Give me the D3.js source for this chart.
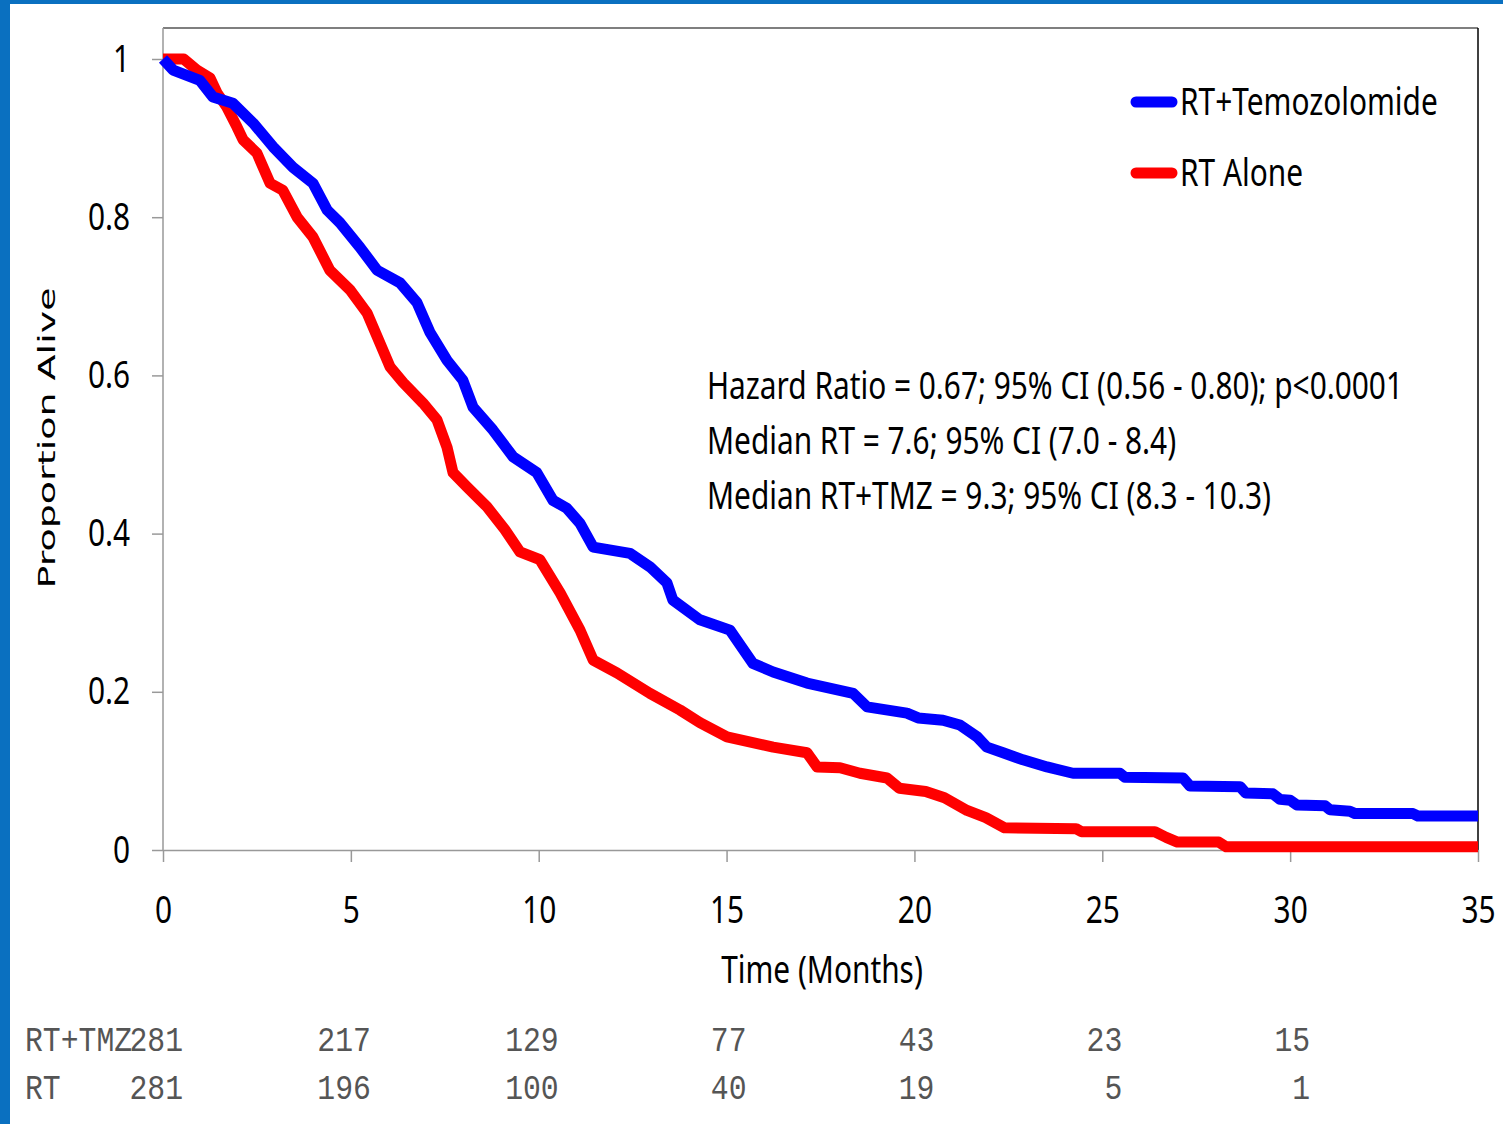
<!DOCTYPE html>
<html>
<head>
<meta charset="utf-8">
<script src="https://cdn.jsdelivr.net/npm/d3@7"></script>
<style>
  body { margin: 0; background: #fff; }
  svg { display: block; }
</style>
</head>
<body>
<script>
// Kaplan-Meier: RT + Temozolomide vs RT alone

// RT+Temozolomide curve (months, proportion alive)
var tmzTime = [0, 0.27, 0.98, 1.33, 1.86, 2.40, 2.93, 3.46, 3.99, 4.37, 4.71, 5.24, 5.70, 6.31, 6.76,
               7.11, 7.56, 7.98, 8.25, 8.78, 9.32, 9.95, 10.38, 10.75, 11.10, 11.45, 12.43, 12.96, 13.41,
               13.57, 14.29, 15.09, 15.70, 16.24, 17.14, 18.37, 18.74, 19.80, 20.10, 20.76, 21.21, 21.67,
               21.93, 22.36, 22.89, 23.53, 24.22, 25.47, 25.60, 27.15, 27.33, 28.67, 28.82, 29.54, 29.73,
               30.00, 30.18, 30.93, 31.06, 31.59, 31.73, 33.27, 33.40, 35.00];
var tmzSurv = [1.000, 0.986, 0.973, 0.952, 0.944, 0.919, 0.889, 0.863, 0.843, 0.809, 0.793, 0.762, 0.733, 0.717, 0.692,
               0.654, 0.619, 0.594, 0.560, 0.531, 0.497, 0.477, 0.442, 0.432, 0.413, 0.383, 0.375, 0.358, 0.338,
               0.316, 0.291, 0.278, 0.236, 0.225, 0.211, 0.198, 0.181, 0.173, 0.167, 0.164, 0.158, 0.143,
               0.130, 0.123, 0.114, 0.105, 0.097, 0.097, 0.092, 0.091, 0.081, 0.080, 0.072, 0.071, 0.064,
               0.063, 0.057, 0.056, 0.051, 0.049, 0.046, 0.046, 0.043, 0.043];

// RT alone curve
var rtTime = [0, 0.55, 0.90, 1.25, 1.44, 1.70, 1.97, 2.13, 2.50, 2.85, 3.19, 3.57, 3.99, 4.44, 4.98,
              5.43, 5.70, 6.04, 6.39, 6.92, 7.29, 7.56, 7.72, 8.09, 8.62, 9.10, 9.50, 10.03, 10.57,
              11.10, 11.45, 12.08, 12.96, 13.76, 14.29, 15.01, 16.24, 17.14, 17.41, 18.02, 18.55, 19.27,
              19.60, 20.30, 20.80, 21.40, 21.90, 22.40, 24.30, 24.45, 26.40, 26.70, 27.00, 28.10, 28.30, 35.00];
var rtSurv = [1.000, 1.000, 0.986, 0.976, 0.957, 0.939, 0.914, 0.898, 0.881, 0.843, 0.834, 0.800, 0.775, 0.733, 0.708,
              0.679, 0.649, 0.611, 0.591, 0.565, 0.544, 0.509, 0.477, 0.459, 0.434, 0.405, 0.377, 0.367, 0.325,
              0.278, 0.240, 0.224, 0.198, 0.177, 0.161, 0.143, 0.130, 0.123, 0.105, 0.104, 0.097, 0.091,
              0.078, 0.074, 0.066, 0.050, 0.041, 0.028, 0.027, 0.023, 0.023, 0.016, 0.010, 0.010, 0.004, 0.004];

var seriesNames = ["RT+Temozolomide", "RT Alone"];
var xTicks = [0, 5, 10, 15, 20, 25, 30, 35];
var yTicks = [0, 0.2, 0.4, 0.6, 0.8, 1];

// numbers at risk, one per x tick from 0 to 30
var riskLabels = ["RT+TMZ", "RT"];
var riskTimes = [0, 5, 10, 15, 20, 25, 30];
var riskTmz = [281, 217, 129, 77, 43, 23, 15];
var riskRt = [281, 196, 100, 40, 19, 5, 1];

var notes = [
  "Hazard Ratio = 0.67; 95% CI (0.56 - 0.80); p<0.0001",
  "Median RT = 7.6; 95% CI (7.0 - 8.4)",
  "Median RT+TMZ = 9.3; 95% CI (8.3 - 10.3)"
];

var width = 1503, height = 1124;
var plotL = 163, plotR = 1478, plotT = 28, plotB = 850;
var sans = "'Noto Sans', 'Open Sans', sans-serif";
var narrow = 0.785; // the original is squashed sideways

var svg = d3.select("body").append("svg")
  .attr("width", width)
  .attr("height", height);

// blue slide edge
svg.append("rect").attr("x", 0).attr("y", 0).attr("width", width).attr("height", 4).attr("fill", "#0a70c0");
svg.append("rect").attr("x", 0).attr("y", 0).attr("width", 10).attr("height", height).attr("fill", "#0a70c0");

var x = d3.scaleLinear().domain([0, 35]).range([plotL, plotR]);
var y = d3.scaleLinear().domain([0, 1]).range([plotB, 59]);

// narrow the glyphs horizontally
function squeeze(sel, k) {
  sel.each(function() {
    var w = this.getComputedTextLength();
    d3.select(this).attr("textLength", w * k).attr("lengthAdjust", "spacingAndGlyphs");
  });
}

// frame
svg.append("line").attr("x1", plotL).attr("x2", plotR).attr("y1", plotT).attr("y2", plotT)
  .attr("stroke", "#555").attr("stroke-width", 1.5);
svg.append("line").attr("x1", plotR).attr("x2", plotR).attr("y1", plotT).attr("y2", plotB)
  .attr("stroke", "#000").attr("stroke-width", 1.5);
svg.append("line").attr("x1", plotL).attr("x2", plotL).attr("y1", plotT).attr("y2", plotB)
  .attr("stroke", "#999").attr("stroke-width", 1.5);

// axes
var xAxis = d3.axisBottom(x).tickValues(xTicks).tickSize(12).tickSizeOuter(0).tickFormat(d3.format("d"));
var gx = svg.append("g").attr("transform", "translate(0," + plotB + ")").call(xAxis);
gx.select(".domain").attr("stroke", "#999").attr("stroke-width", 1.5);
gx.selectAll(".tick line").attr("stroke", "#999").attr("stroke-width", 1.5);
gx.selectAll(".tick text")
  .attr("y", 73).attr("dy", null)
  .attr("font-family", sans).attr("font-size", 38).attr("fill", "#000")
  .call(squeeze, narrow);

var yAxis = d3.axisLeft(y).tickValues(yTicks).tickSize(11).tickPadding(22).tickSizeOuter(0)
  .tickFormat(function(d) { return d === 0 || d === 1 ? d3.format("d")(d) : d3.format(".1f")(d); });
var gy = svg.append("g").attr("transform", "translate(" + plotL + ",0)").call(yAxis);
gy.select(".domain").remove();
gy.selectAll(".tick line").attr("stroke", "#999").attr("stroke-width", 1.5);
gy.selectAll(".tick text")
  .attr("font-family", sans).attr("font-size", 38).attr("fill", "#000")
  .call(squeeze, narrow);

// axis titles
svg.append("text").attr("x", 822).attr("y", 983).attr("text-anchor", "middle")
  .attr("font-family", sans).attr("font-size", 38)
  .text("Time (Months)").call(squeeze, narrow);

svg.append("text")
  .attr("transform", "translate(55,438) rotate(-90) scale(1,0.62)")
  .attr("text-anchor", "middle")
  .attr("font-family", "'DejaVu Sans', Verdana, sans-serif").attr("font-size", 38)
  .text("Proportion Alive");

// survival curves
var line = d3.line()
  .x(function(d) { return x(d[0]); })
  .y(function(d) { return y(d[1]); });

var curves = [
  { name: seriesNames[0], color: "#0000ff", pts: d3.zip(tmzTime, tmzSurv) },
  { name: seriesNames[1], color: "#ff0000", pts: d3.zip(rtTime, rtSurv) }
];

svg.selectAll("path.km")
  .data(curves.slice().reverse())
  .enter().append("path")
  .attr("class", "km")
  .attr("d", function(d) { return line(d.pts); })
  .attr("fill", "none")
  .attr("stroke", function(d) { return d.color; })
  .attr("stroke-width", 11)
  .attr("stroke-linejoin", "round");

// legend
var legend = svg.selectAll("g.legend")
  .data(curves)
  .enter().append("g")
  .attr("class", "legend")
  .attr("transform", function(d, i) { return "translate(1132," + (102 + i * 71) + ")"; });
legend.append("line")
  .attr("x1", 4).attr("x2", 40)
  .attr("stroke", function(d) { return d.color; })
  .attr("stroke-width", 11).attr("stroke-linecap", "round");
legend.append("text")
  .attr("x", 48).attr("y", 13)
  .attr("font-family", sans).attr("font-size", 38)
  .text(function(d) { return d.name; })
  .call(squeeze, narrow);

// statistics
svg.selectAll("text.note")
  .data(notes)
  .enter().append("text")
  .attr("class", "note")
  .attr("x", 707)
  .attr("y", function(d, i) { return 399 + i * 55; })
  .attr("font-family", sans).attr("font-size", 38)
  .text(function(d) { return d; })
  .call(squeeze, narrow);

// numbers at risk (fixed-pitch cells)
var mono = "'Liberation Mono', 'DejaVu Sans Mono', monospace";
var charW = 17.86;
var riskRows = [riskTmz, riskRt];
riskRows.forEach(function(row, r) {
  var by = 1051 + r * 48;
  svg.append("text").attr("x", 25).attr("y", by)
    .attr("font-family", mono).attr("font-size", 35).attr("fill", "#555")
    .attr("textLength", riskLabels[r].length * charW).attr("lengthAdjust", "spacingAndGlyphs")
    .text(riskLabels[r]);
  svg.selectAll(null)
    .data(row)
    .enter().append("text")
    .attr("x", function(d, i) { return x(riskTimes[i]) + 20 - String(d).length * charW; })
    .attr("y", by)
    .attr("font-family", mono).attr("font-size", 35).attr("fill", "#555")
    .attr("textLength", function(d) { return String(d).length * charW; })
    .attr("lengthAdjust", "spacingAndGlyphs")
    .text(function(d) { return d; });
});
</script>
</body>
</html>
